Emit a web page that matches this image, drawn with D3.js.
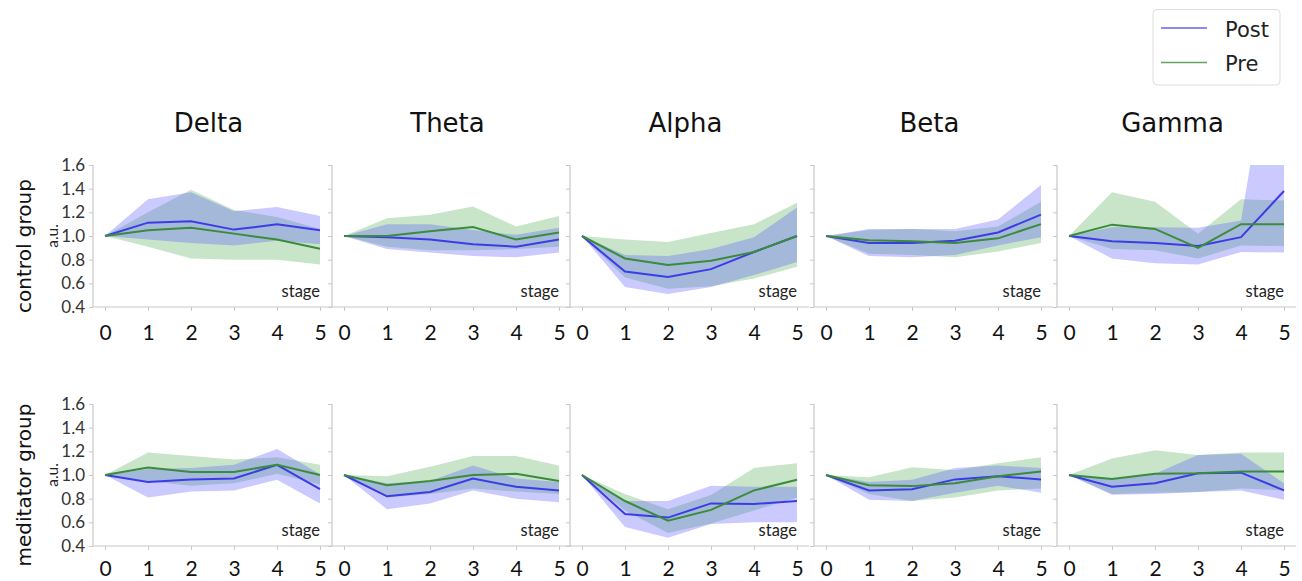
<!DOCTYPE html>
<html>
<head>
<meta charset="utf-8">
<script src="https://cdn.jsdelivr.net/npm/d3@7"></script>
<style>
  html, body { margin: 0; padding: 0; background: #fff; }
  svg { display: block; }
</style>
</head>
<body>
<svg id="chart" width="1302" height="581"></svg>
<script>
// ---------------- DATA ----------------
const bands = ["Delta", "Theta", "Alpha", "Beta", "Gamma"];
const groups = ["control group", "meditator group"];
const stages = [0, 1, 2, 3, 4, 5];
const yTicks = [0.4, 0.6, 0.8, 1.0, 1.2, 1.4, 1.6];
const seriesNames = ["Post", "Pre"];

// control group (rows = Delta, Theta, Alpha, Beta, Gamma)
const controlPostMean = [
  [1, 1.113, 1.124, 1.054, 1.099, 1.048],
  [1, 0.99, 0.97, 0.93, 0.91, 0.97],
  [1, 0.70, 0.654, 0.72, 0.865, 1.0],
  [1, 0.94, 0.94, 0.96, 1.03, 1.18],
  [1, 0.955, 0.94, 0.915, 0.99, 1.38]
];
const controlPostLow = [
  [1, 0.97, 0.94, 0.92, 0.96, 0.93],
  [1, 0.89, 0.86, 0.83, 0.82, 0.86],
  [1, 0.57, 0.51, 0.57, 0.67, 0.78],
  [1, 0.83, 0.82, 0.84, 0.92, 0.99],
  [1, 0.81, 0.77, 0.76, 0.865, 0.86]
];
const controlPostHigh = [
  [1, 1.31, 1.37, 1.21, 1.245, 1.17],
  [1, 1.10, 1.10, 1.05, 1.01, 1.07],
  [1, 0.84, 0.83, 0.89, 0.99, 1.24],
  [1, 1.06, 1.06, 1.06, 1.14, 1.43],
  [1, 1.075, 1.075, 1.07, 1.13, 3.3]
];
const controlPreMean = [
  [1, 1.048, 1.07, 1.02, 0.97, 0.893],
  [1, 1.0, 1.04, 1.076, 0.97, 1.03],
  [1, 0.81, 0.755, 0.79, 0.865, 1.0],
  [1, 0.965, 0.955, 0.94, 0.98, 1.10],
  [1, 1.096, 1.06, 0.90, 1.10, 1.10]
];
const controlPreLow = [
  [1, 0.91, 0.81, 0.80, 0.80, 0.76],
  [1, 0.91, 0.88, 0.88, 0.89, 0.91],
  [1, 0.65, 0.555, 0.575, 0.64, 0.74],
  [1, 0.85, 0.84, 0.82, 0.87, 0.94],
  [1, 0.89, 0.88, 0.81, 0.92, 0.915]
];
const controlPreHigh = [
  [1, 1.20, 1.39, 1.22, 1.16, 1.06],
  [1, 1.15, 1.18, 1.25, 1.08, 1.17],
  [1, 0.97, 0.95, 1.025, 1.10, 1.28],
  [1, 1.05, 1.06, 1.04, 1.08, 1.29],
  [1, 1.37, 1.29, 1.02, 1.31, 1.30]
];

// meditator group
const meditatorPostMean = [
  [1, 0.94, 0.963, 0.97, 1.086, 0.88],
  [1, 0.82, 0.857, 0.97, 0.90, 0.87],
  [1, 0.67, 0.64, 0.76, 0.755, 0.78],
  [1, 0.87, 0.88, 0.963, 0.99, 0.963],
  [1, 0.90, 0.93, 1.014, 1.02, 0.87]
];
const meditatorPostLow = [
  [1, 0.81, 0.86, 0.87, 0.96, 0.76],
  [1, 0.71, 0.76, 0.87, 0.80, 0.77],
  [1, 0.56, 0.47, 0.585, 0.60, 0.60],
  [1, 0.79, 0.78, 0.85, 0.91, 0.85],
  [1, 0.834, 0.84, 0.857, 0.87, 0.79]
];
const meditatorPostHigh = [
  [1, 1.05, 1.06, 1.086, 1.22, 1.006],
  [1, 0.93, 0.95, 1.08, 0.97, 0.94],
  [1, 0.78, 0.78, 0.91, 0.90, 0.90],
  [1, 0.94, 0.96, 1.06, 1.08, 1.06],
  [1, 0.963, 1.01, 1.17, 1.18, 0.93]
];
const meditatorPreMean = [
  [1, 1.063, 1.026, 1.026, 1.086, 1.0],
  [1, 0.914, 0.95, 1.0, 1.01, 0.95],
  [1, 0.78, 0.614, 0.705, 0.87, 0.96],
  [1, 0.914, 0.906, 0.93, 0.99, 1.03],
  [1, 0.966, 1.01, 1.014, 1.03, 1.03]
];
const meditatorPreLow = [
  [1, 0.95, 0.91, 0.93, 1.01, 0.92],
  [1, 0.81, 0.84, 0.886, 0.86, 0.84],
  [1, 0.70, 0.51, 0.59, 0.70, 0.81],
  [1, 0.84, 0.78, 0.81, 0.87, 0.886],
  [1, 0.84, 0.85, 0.857, 0.886, 0.87]
];
const meditatorPreHigh = [
  [1, 1.19, 1.16, 1.13, 1.15, 1.086],
  [1, 0.99, 1.07, 1.16, 1.16, 1.08],
  [1, 0.84, 0.71, 0.83, 1.06, 1.10],
  [1, 0.98, 1.066, 1.04, 1.10, 1.15],
  [1, 1.14, 1.21, 1.17, 1.19, 1.19]
];

// ---------------- TABLE BUILT FROM ARRAYS ----------------
const groupData = [
  { post: [controlPostMean, controlPostLow, controlPostHigh], pre: [controlPreMean, controlPreLow, controlPreHigh] },
  { post: [meditatorPostMean, meditatorPostLow, meditatorPostHigh], pre: [meditatorPreMean, meditatorPreLow, meditatorPreHigh] }
];

// ---------------- LAYOUT / STYLE ----------------
const colLeft = [93, 332, 570, 814, 1057];
const panelW = 239;
const rowCfg = [
  { bottom: 307, labelDy: 34 },
  { bottom: 546, labelDy: 31 }
];
const panelH = 142;
const colors = {
  Post: { line: "#3c3ce6", fill: "rgb(80,80,255)", alpha: 0.30 },
  Pre:  { line: "#3a8c3a", fill: "rgb(60,160,60)", alpha: 0.28 }
};
const spineColor = "#c8c8c8";
const numFont = "Lato, 'Open Sans', sans-serif";
const labFont = "'DejaVu Sans', sans-serif";

const svg = d3.select("#chart");
const defs = svg.append("defs");

groups.forEach((g, gi) => {
  const rc = rowCfg[gi];
  bands.forEach((b, bi) => {
    const left = colLeft[bi];
    const x = d3.scaleLinear().domain([0, 5]).range([left + 12, left + 227]);
    const y = d3.scaleLinear().domain([0.4, 1.6]).range([rc.bottom, rc.bottom - panelH]);
    const pg = svg.append("g");

    const clipId = `clip-${gi}-${bi}`;
    defs.append("clipPath").attr("id", clipId)
      .append("rect")
      .attr("x", left).attr("y", y(1.6))
      .attr("width", panelW).attr("height", y(0.4) - y(1.6));

    const plot = pg.append("g").attr("clip-path", `url(#${clipId})`);

    const area = (lo, hi) => d3.area()
      .x((d, i) => x(stages[i]))
      .y0((d, i) => y(lo[i]))
      .y1((d, i) => y(hi[i]))(stages);
    const line = (m) => d3.line()
      .x((d, i) => x(stages[i]))
      .y((d, i) => y(m[i]))(stages);

    const pre = groupData[gi].pre.map(a => a[bi]);
    const post = groupData[gi].post.map(a => a[bi]);

    plot.append("path").attr("d", area(pre[1], pre[2]))
      .attr("fill", colors.Pre.fill).attr("fill-opacity", colors.Pre.alpha);
    plot.append("path").attr("d", area(post[1], post[2]))
      .attr("fill", colors.Post.fill).attr("fill-opacity", colors.Post.alpha);
    plot.append("path").attr("d", line(post[0]))
      .attr("fill", "none").attr("stroke", colors.Post.line).attr("stroke-width", 2);
    plot.append("path").attr("d", line(pre[0]))
      .attr("fill", "none").attr("stroke", colors.Pre.line).attr("stroke-width", 2);

    // spines
    pg.append("line").attr("x1", left).attr("x2", left)
      .attr("y1", y(1.6)).attr("y2", y(0.4))
      .attr("stroke", spineColor).attr("stroke-width", 1.2);
    pg.append("line").attr("x1", left).attr("x2", left + panelW)
      .attr("y1", y(0.4)).attr("y2", y(0.4))
      .attr("stroke", spineColor).attr("stroke-width", 1.2);

    // y axis ticks
    const yAxis = d3.axisLeft(y).tickValues(yTicks).tickSize(4).tickPadding(4)
      .tickFormat(bi === 0 ? d3.format(".1f") : () => "");
    const ya = pg.append("g").attr("transform", `translate(${left},0)`).call(yAxis);
    ya.select(".domain").remove();
    ya.selectAll(".tick line").attr("stroke", spineColor);
    ya.selectAll(".tick text").attr("font-family", numFont).attr("font-size", 17)
      .attr("fill", "#333");

    // x axis
    const xAxis = d3.axisBottom(x).tickValues(stages).tickSize(4).tickPadding(rc.labelDy - 20)
      .tickFormat(d3.format("d"));
    const xa = pg.append("g").attr("transform", `translate(0,${y(0.4)})`).call(xAxis);
    xa.select(".domain").remove();
    xa.selectAll(".tick line").attr("stroke", spineColor);
    xa.selectAll(".tick text").attr("font-family", numFont).attr("font-size", 21)
      .attr("fill", "#111");

    // "stage" label
    pg.append("text").attr("x", left + 227).attr("y", y(0.4) - 10)
      .attr("text-anchor", "end").attr("font-family", numFont).attr("font-size", 16.5)
      .attr("fill", "#222").text("stage");

    // title
    if (gi === 0) {
      svg.append("text").attr("x", left + panelW / 2 - 4).attr("y", 132)
        .attr("text-anchor", "middle").attr("font-family", labFont).attr("font-size", 26)
        .attr("fill", "#111").text(b);
    }
    if (bi === 0) {
      svg.append("text")
        .attr("transform", `translate(53,${y(1.0)}) rotate(-90)`)
        .attr("text-anchor", "middle").attr("dy", "0.35em")
        .attr("font-family", numFont).attr("font-size", 15.5).attr("fill", "#222").text("a.u.");
      svg.append("text")
        .attr("transform", `translate(24,${(y(0.4) + y(1.6)) / 2 + 10}) rotate(-90)`)
        .attr("text-anchor", "middle").attr("dy", "0.35em")
        .attr("font-family", labFont).attr("font-size", 20).attr("fill", "#111").text(g);
    }
  });
});

// legend
const lg = svg.append("g");
lg.append("rect").attr("x", 1153).attr("y", 9.5).attr("width", 127).attr("height", 75.5)
  .attr("rx", 4).attr("fill", "#fff").attr("stroke", "#dcdcdc");
seriesNames.forEach((s, i) => {
  const yy = 28 + i * 34.5;
  lg.append("line").attr("x1", 1161).attr("x2", 1207).attr("y1", yy).attr("y2", yy)
    .attr("stroke", colors[s].line).attr("stroke-width", 1.6).attr("stroke-opacity", 0.8);
  lg.append("text").attr("x", 1225).attr("y", yy + 8.5).attr("font-family", labFont)
    .attr("font-size", 21).attr("fill", "#222").text(s);
});
</script>
</body>
</html>
